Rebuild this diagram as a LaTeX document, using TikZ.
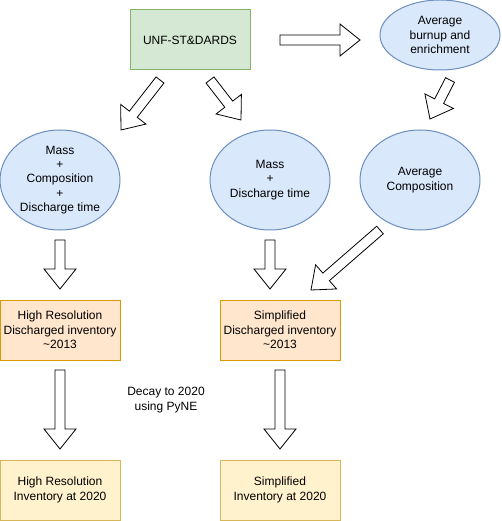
\documentclass[tikz,border=0pt]{standalone}
\usepackage{fontspec}
\setmainfont{Liberation Sans}
\usetikzlibrary{shapes.geometric,calc}

\definecolor{greenfill}{HTML}{D5E8D4}
\definecolor{greenline}{HTML}{82B366}
\definecolor{bluefill}{HTML}{DAE8FC}
\definecolor{blueline}{HTML}{6C8EBF}
\definecolor{orangefill}{HTML}{FFE6CC}
\definecolor{orangeline}{HTML}{D79B00}
\definecolor{yellowfill}{HTML}{FFF2CC}
\definecolor{yellowline}{HTML}{D6B656}

\tikzset{
  databox/.style={rectangle, minimum width=120pt, minimum height=60pt,
    align=center, inner sep=1pt, line width=1pt},
  dataset/.style={ellipse, draw=blueline, fill=bluefill, minimum width=120pt,
    align=center, inner sep=0pt, line width=1pt},
  blockarrow/.style={draw=black, fill=white, line width=0.8pt, line join=miter}
}

% hollow block arrow from tail to tip
\newcommand{\bigarrow}[2]{%
  \coordinate (neck) at ($(#2)!20pt!(#1)$);
  \draw[blockarrow] ($(#1)!5pt!90:(#2)$) -- ($(neck)!5pt!90:(#2)$)
    -- ($(neck)!16pt!90:(#2)$) -- (#2) -- ($(neck)!16pt!-90:(#2)$)
    -- ($(neck)!5pt!-90:(#2)$) -- ($(#1)!5pt!-90:(#2)$) -- cycle;
}

\begin{document}
\begin{tikzpicture}[x=1pt, y=-1pt, font=\fontsize{12}{14.4}\selectfont]
  \useasboundingbox (0,0) rectangle (501,521);

  % sources
  \node[databox, draw=greenline, fill=greenfill] (unf) at (190,40) {UNF-ST\&DARDS};
  \node[dataset, minimum height=70pt] (avgburn) at (440,35) {Average\\burnup and\\enrichment};

  % data sets
  \node[dataset, minimum height=100pt] (mcd) at (60,180)
    {Mass\\+\\Composition\\+\\Discharge time};
  \node[dataset, minimum height=100pt] (md) at (270,180) {Mass\\+\\Discharge time};
  \node[dataset, minimum height=100pt] (avgcomp) at (420,180) {Average\\Composition};

  % inventories
  \node[databox, draw=orangeline, fill=orangefill] (hrdis) at (60,330)
    {High Resolution\\Discharged inventory\\\textasciitilde2013};
  \node[databox, draw=orangeline, fill=orangefill] (sdis) at (280,330)
    {Simplified\\Discharged inventory\\\textasciitilde2013};
  \node[databox, draw=yellowline, fill=yellowfill] (hr20) at (60,490)
    {High Resolution\\Inventory at 2020};
  \node[databox, draw=yellowline, fill=yellowfill] (s20) at (280,490)
    {Simplified\\Inventory at 2020};

  \node[align=center] (decay) at (166,400) {Decay to 2020\\using PyNE};

  % arrow ends
  \coordinate (unf-r) at (280,40);
  \coordinate (burn-l) at (360,40);
  \coordinate (unf-bl) at (160,80);
  \coordinate (mcd-t) at (121,130);
  \coordinate (unf-br) at (210,80);
  \coordinate (md-t) at (241,120);
  \coordinate (burn-b) at (450,80);
  \coordinate (comp-t) at (430,119);
  \coordinate (mcd-b) at (60,240);
  \coordinate (hrdis-t) at (60,289);
  \coordinate (md-b) at (270,240);
  \coordinate (sdis-t) at (270,289);
  \coordinate (comp-b) at (380,230);
  \coordinate (sdis-tr) at (311,290);
  \coordinate (hrdis-b) at (60,370);
  \coordinate (hr20-t) at (60,449);
  \coordinate (sdis-b) at (280,370);
  \coordinate (s20-t) at (280,449);

  \bigarrow{unf-r}{burn-l}
  \bigarrow{unf-bl}{mcd-t}
  \bigarrow{unf-br}{md-t}
  \bigarrow{burn-b}{comp-t}
  \bigarrow{mcd-b}{hrdis-t}
  \bigarrow{md-b}{sdis-t}
  \bigarrow{comp-b}{sdis-tr}
  \bigarrow{hrdis-b}{hr20-t}
  \bigarrow{sdis-b}{s20-t}
\end{tikzpicture}
\end{document}
